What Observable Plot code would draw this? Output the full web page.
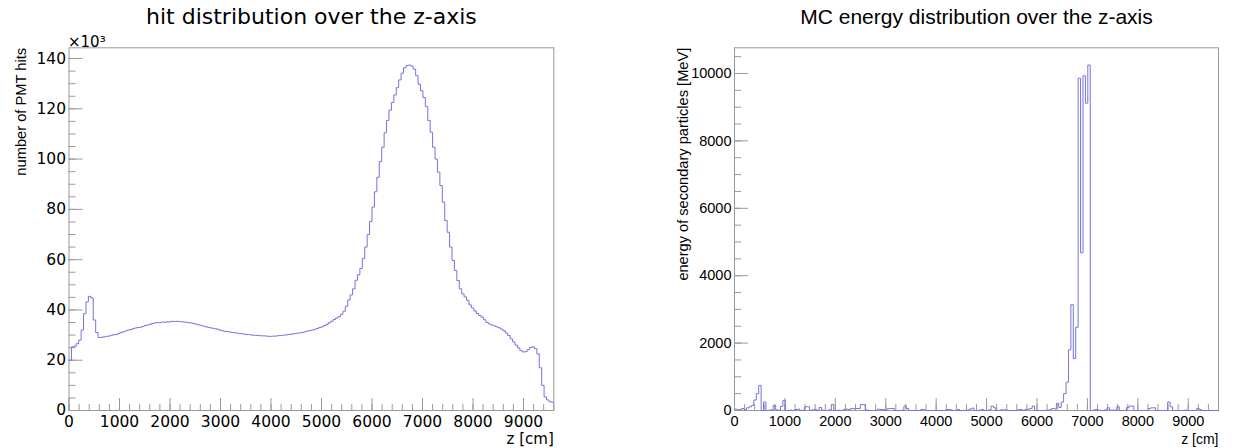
<!DOCTYPE html>
<html>
<head>
<meta charset="utf-8">
<script src="https://cdn.jsdelivr.net/npm/d3@7"></script>
<script src="https://cdn.jsdelivr.net/npm/@observablehq/plot@0.6"></script>
<style>
html, body { margin: 0; padding: 0; background: #fff; }
#row { display: flex; width: 1240px; height: 448px; overflow: hidden; }
#row svg { display: block; flex: none; }
</style>
</head>
<body>
<div id="row"></div>
<script>
// ---- histogram binning (200 bins over z = 0 .. 9600 cm) ----
const zMin = 0;
const zMax = 9600;
const binWidth = 48;

// ---- left: number of PMT hits per bin, in thousands (x10^3) ----
const hitsK = [
  20, 25.3, 25.6, 26.6, 28, 32, 38.5, 43.2, 45.4, 44.8,
  36, 31, 29, 29.1, 29.3, 29.5, 29.6, 29.9, 30.1, 30.2,
  30.6, 31.0, 31.3, 31.6, 32.0, 32.2, 32.5, 32.8, 33.0, 33.1,
  33.4, 33.8, 34.0, 34.3, 34.6, 34.8, 35.0, 34.9, 35.2, 35.1,
  35.3, 35.2, 35.5, 35.4, 35.5, 35.4, 35.3, 35.2, 35.1, 34.9,
  34.8, 34.6, 34.3, 34.1, 33.9, 33.6, 33.3, 33.1, 32.9, 32.7,
  32.5, 32.3, 31.9, 31.7, 31.5, 31.4, 31.2, 31.0, 30.9, 30.8,
  30.6, 30.5, 30.4, 30.2, 30.2, 30.0, 29.9, 29.9, 29.8, 29.7,
  29.7, 29.6, 29.5, 29.5, 29.6, 29.6, 29.8, 29.8, 30.0, 30.0,
  30.2, 30.3, 30.5, 30.6, 30.8, 30.9, 31.1, 31.3, 31.6, 31.8,
  32.0, 32.3, 32.6, 33.0, 33.3, 33.8, 34.3, 34.9, 35.5, 36.2,
  36.8, 37.3, 38.3, 39.5, 41.5, 44.0, 46.0, 48.4, 51.8, 54.0,
  56.5, 60.5, 65, 70, 75.2, 80.9, 87.0, 92.8, 99, 104.7,
  110.5, 115.4, 119.5, 122.5, 125.5, 128.4, 131.5, 134.2, 136.3, 137.2,
  137.4, 137.0, 135.8, 133.2, 129.8, 127.2, 124.5, 120.9, 115.4, 110.7,
  104.7, 100, 94.8, 89.5, 82.9, 75.6, 70.9, 65, 59.7, 55.7,
  51.7, 48.4, 46.4, 45.2, 43.8, 42.0, 40.8, 39.6, 38.6, 37.8,
  37.1, 36.1, 35.0, 34.4, 34.0, 33.7, 33.3, 32.9, 32.4, 31.7,
  30.8, 29.8, 28.5, 27.3, 26.0, 24.9, 23.8, 23.3, 23.4, 24.2,
  25.1, 25.3, 24.6, 22.5, 17.0, 10.0, 5.4, 4.2, 3.5, 3.3
];

// ---- right: energy of secondary particles per bin [MeV] ----
const energyMeV = [
  40, 20, 30, 60, 20, 80, 110, 150, 310, 500,
  745, 0, 250, 0, 10, 20, 150, 20, 0, 120,
  300, 0, 0, 10, 0, 30, 40, 0, 10, 110,
  110, 0, 20, 30, 0, 90, 10, 0, 0, 20,
  180, 0, 0, 10, 0, 30, 40, 30, 60, 50,
  60, 60, 180, 170, 20, 0, 0, 0, 0, 40,
  30, 30, 0, 50, 60, 60, 0, 0, 0, 10,
  130, 60, 0, 0, 0, 0, 0, 30, 20, 0,
  0, 0, 0, 0, 0, 0, 0, 10, 30, 20,
  0, 0, 30, 0, 0, 0, 10, 40, 70, 0,
  0, 10, 30, 0, 0, 20, 130, 80, 0, 0,
  20, 20, 10, 0, 0, 0, 0, 20, 30, 0,
  30, 40, 60, 130, 0, 0, 0, 0, 0, 10,
  20, 60, 50, 210, 90, 250, 500, 840, 1800, 3140,
  1540, 2470, 9860, 4680, 9930, 9120, 10250, 0, 10, 30,
  10, 0, 0, 20, 80, 10, 10, 10, 110, 0,
  0, 0, 90, 130, 130, 0, 0, 0, 0, 0,
  0, 60, 80, 80, 0, 0, 0, 0, 0, 250,
  110, 0, 0, 0, 0, 0, 10, 0, 0, 0,
  0, 60, 30, 0, 0, 0, 0, 0, 0, 0
];

// ---- axis ticks / labels ----
const zTickLabels = [0, 1000, 2000, 3000, 4000, 5000, 6000, 7000, 8000, 9000];
const zMinorStep = 200;
const hitTickLabels = [0, 20, 40, 60, 80, 100, 120, 140];
const hitMinorStep = 5;
const energyTickLabels = [0, 2000, 4000, 6000, 8000, 10000];
const energyMinorStep = 500;

const titles = ["hit distribution over the z-axis", "MC energy distribution over the z-axis"];
const yTitles = ["number of PMT hits", "energy of secondary particles [MeV]"];
const xTitle = "z [cm]";
const multiplier = "×10³";

// ---- styling ----
const W = 620, H = 448;
const lineColor = "#7373dd";
const frameColor = "#999";
const plainNumber = d => String(d);

function stepPoints(values) {
  const pts = values.map((v, i) => ({z: zMin + i * binWidth, v}));
  pts.push({z: zMin + values.length * binWidth, v: values[values.length - 1]});
  return pts;
}

function histPlot(o) {
  const pw = W - o.ml - o.mr;
  const ph = H - o.mt - o.mb;
  const yMax = d3.max(o.values) * 1.05;
  const yMinor = d3.range(0, yMax, o.yMinorStep);
  const xMinor = d3.range(zMin, zMax + 1, zMinorStep);
  const marks = [
    Plot.frame({stroke: frameColor}),
    Plot.ruleY(yMinor, {stroke: frameColor, insetRight: pw - 7}),
    Plot.ruleY(o.yTicks, {stroke: frameColor, insetRight: pw - 14}),
    Plot.ruleX(xMinor, {stroke: frameColor, insetTop: ph - 6}),
    Plot.ruleX(zTickLabels, {stroke: frameColor, insetTop: ph - 12}),
    Plot.axisY(o.yTicks, {tickSize: 0, tickPadding: 3, label: null, tickFormat: plainNumber, fontSize: o.tickFont, fontFamily: o.font, fill: "#000"}),
    Plot.axisX(zTickLabels, {tickSize: 0, tickPadding: 5, label: null, tickFormat: plainNumber, fontSize: o.tickFont, fontFamily: o.font, fill: "#000"}),
    Plot.line(stepPoints(o.values), {x: "z", y: "v", curve: "step-after", stroke: lineColor, strokeWidth: 1}),
    Plot.text([o.title], {frameAnchor: "top", dy: -23.5, lineAnchor: "bottom", fontSize: o.titleFont, fontFamily: o.font, fill: "#000"}),
    Plot.text([o.yTitle], {frameAnchor: "top-left", rotate: -90, textAnchor: "end", lineAnchor: "middle", dx: o.yTitleDx, dy: 0, fontSize: o.yTitleFont, fontFamily: "Liberation Sans", fill: "#000"}),
    Plot.text([xTitle], {frameAnchor: "bottom-right", textAnchor: "end", lineAnchor: "bottom", dy: 33, fontSize: o.xTitleFont, fontFamily: o.font, fill: "#000"})
  ];
  if (o.multiplier) {
    marks.push(Plot.text([o.multiplier], {frameAnchor: "top-left", textAnchor: "start", lineAnchor: "bottom", dx: -1, dy: -1, fontSize: 15, fontFamily: o.font, fill: "#000"}));
  }
  return Plot.plot({
    width: W, height: H,
    marginLeft: o.ml, marginRight: o.mr, marginTop: o.mt, marginBottom: o.mb,
    style: {background: "#fff", color: "#000", fontFamily: o.font, overflow: "visible"},
    x: {domain: [zMin, zMax], axis: null},
    y: {domain: [0, yMax], axis: null},
    marks
  });
}

const row = document.getElementById("row");
row.append(histPlot({
  values: hitsK, yTicks: hitTickLabels, yMinorStep: hitMinorStep,
  title: titles[0], yTitle: yTitles[0], multiplier,
  ml: 68.5, mr: 66.7, mt: 47.3, mb: 38,
  font: "DejaVu Sans", tickFont: 15.5, titleFont: 22, yTitleFont: 14.7, yTitleDx: -47.5, xTitleFont: 15
}));
row.append(histPlot({
  values: energyMeV, yTicks: energyTickLabels, yMinorStep: energyMinorStep,
  title: titles[1], yTitle: yTitles[1], multiplier: null,
  ml: 114, mr: 22, mt: 47.3, mb: 38,
  font: "Liberation Sans", tickFont: 14.5, titleFont: 21, yTitleFont: 14.6, yTitleDx: -51, xTitleFont: 14
}));
</script>
</body>
</html>
